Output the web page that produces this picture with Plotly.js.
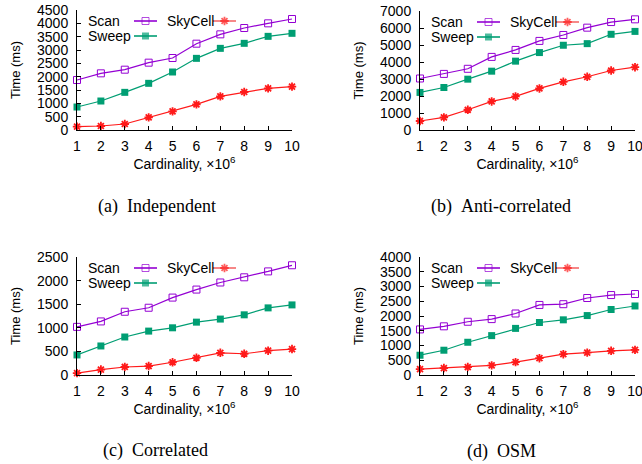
<!DOCTYPE html>
<html><head><meta charset="utf-8">
<script src="https://cdn.plot.ly/plotly-3.0.1.min.js"></script>
<style>html,body{margin:0;padding:0;background:#fff}#chart{width:642px;height:464px}</style>
</head><body><div id="chart"></div>
<script>
// ---- data ----
const cardinality = [1, 2, 3, 4, 5, 6, 7, 8, 9, 10];
const seriesNames = ['Scan', 'Sweep', 'SkyCell'];
const captions = ['(a)  Independent', '(b)  Anti-correlated', '(c)  Correlated', '(d)  OSM'];
const yTitle = 'Time (ms)';
const xTitle = 'Cardinality, ×10<sup>6</sup>';
const yMax = [4500, 7000, 2500, 4000];
const yStep = [500, 1000, 500, 500];

const scanIndependent    = [1875, 2125, 2262, 2525, 2700, 3237, 3587, 3825, 4000, 4162];
const sweepIndependent   = [862, 1087, 1412, 1750, 2175, 2687, 3062, 3250, 3512, 3625];
const skyCellIndependent = [125, 150, 225, 475, 700, 962, 1262, 1425, 1562, 1625];

const scanAnti    = [3030, 3300, 3600, 4300, 4710, 5240, 5590, 6020, 6350, 6510];
const sweepAnti   = [2210, 2500, 2990, 3460, 4050, 4555, 4985, 5080, 5630, 5800];
const skyCellAnti = [530, 745, 1190, 1680, 1975, 2445, 2835, 3130, 3500, 3695];

const scanCorr    = [1020, 1135, 1340, 1425, 1640, 1810, 1960, 2070, 2195, 2325];
const sweepCorr   = [425, 615, 805, 930, 1000, 1120, 1185, 1275, 1422, 1485];
const skyCellCorr = [40, 115, 170, 190, 270, 365, 470, 450, 515, 550];

const scanOSM    = [1545, 1650, 1805, 1895, 2085, 2375, 2400, 2610, 2710, 2745];
const sweepOSM   = [670, 840, 1110, 1335, 1580, 1780, 1870, 2015, 2220, 2340];
const skyCellOSM = [200, 235, 270, 325, 435, 570, 705, 760, 820, 850];

const panelData = [
  [scanIndependent, sweepIndependent, skyCellIndependent],
  [scanAnti, sweepAnti, skyCellAnti],
  [scanCorr, sweepCorr, skyCellCorr],
  [scanOSM, sweepOSM, skyCellOSM]
];

// ---- styles / layout ----
const W = 642, H = 464;
const boxes = [ // plot areas in px: left, right, top, bottom
  {l: 77, r: 292, t: 10, b: 130},
  {l: 420, r: 635, t: 11, b: 130},
  {l: 77, r: 292, t: 257, b: 375},
  {l: 420, r: 635, t: 257, b: 375}
];
const captionPos = [{x: 157, y: 206}, {x: 501, y: 206}, {x: 155, y: 450}, {x: 501, y: 451}];
const yTitleOffset = 62; // px left of the y axis line
const colors = ['#9400D3', '#009E73', '#FF1A1A'];
const legendColors = ['#9400D3', '#009E73', '#F46A6A'];
const markers = [
  {symbol: 'square-open', size: 7, line: {width: 1}},
  {symbol: 'square', size: 7, line: {width: 0}},
  {symbol: 'asterisk-open', size: 7, line: {width: 1.8}}
];
const sans = 'Liberation Sans, Arial, sans-serif';
// legend placements (px offset from plot top-left): text x, sample start, sample end, row y
const legendItems = [
  {text: 9, s0: 57, s1: 80, row: 11},
  {text: 9, s0: 57, s1: 80, row: 26},
  {text: 88, s0: 136, s1: 159, row: 11}
];

const traces = [];
const layout = {
  width: W, height: H, margin: {l: 0, r: 0, t: 0, b: 0},
  paper_bgcolor: '#fff', plot_bgcolor: 'rgba(0,0,0,0)',
  showlegend: false, font: {family: sans, size: 14, color: '#000'},
  annotations: [], shapes: []
};

boxes.forEach((bx, i) => {
  const n = i + 1, m = i + 5;
  const xd = [bx.l / W, bx.r / W], yd = [1 - bx.b / H, 1 - bx.t / H];
  const pw = bx.r - bx.l, ph = bx.b - bx.t;
  const ax = {
    showline: true, linecolor: '#000', linewidth: 1, ticks: 'inside', ticklen: 4,
    tickcolor: '#000', tickwidth: 1, showgrid: false, zeroline: false, mirror: false,
    tickfont: {family: sans, size: 14, color: '#000'}, fixedrange: true, ticklabeloverflow: 'allow'
  };
  layout['xaxis' + n] = Object.assign({}, ax, {
    domain: xd, anchor: 'y' + n, range: [1, 10], tickvals: cardinality, ticklabelstandoff: 3,
    title: {text: xTitle, font: {family: sans, size: 14}, standoff: 4}
  });
  layout['yaxis' + n] = Object.assign({}, ax, {
    domain: yd, anchor: 'x' + n, range: [0, yMax[i]], dtick: yStep[i], tick0: 0, ticklabelstandoff: 5
  });
  // overlay axes for the key samples
  layout['xaxis' + m] = {domain: xd, anchor: 'y' + m, range: [0, pw], visible: false, fixedrange: true};
  layout['yaxis' + m] = {domain: yd, anchor: 'x' + m, range: [ph, 0], visible: false, fixedrange: true};

  // y title as rotated annotation
  layout.annotations.push({
    xref: 'paper', yref: 'paper', x: (bx.l - yTitleOffset) / W, y: 1 - (bx.t + bx.b) / 2 / H,
    text: yTitle, textangle: -90, showarrow: false, xanchor: 'center', yanchor: 'middle',
    font: {family: sans, size: 13, color: '#000'}
  });

  panelData[i].forEach((vals, s) => {
    traces.push({
      type: 'scatter', mode: 'lines+markers', x: cardinality, y: vals, name: seriesNames[s],
      xaxis: 'x' + n, yaxis: 'y' + n, cliponaxis: false,
      line: {color: colors[s], width: 1.2},
      marker: Object.assign({color: colors[s]}, markers[s], {line: Object.assign({color: colors[s]}, markers[s].line)})
    });
  });
  legendItems.forEach((it, s) => {
    traces.push({
      type: 'scatter', mode: 'lines+markers', xaxis: 'x' + m, yaxis: 'y' + m,
      x: [it.s0, (it.s0 + it.s1) / 2, it.s1], y: [it.row, it.row, it.row], hoverinfo: 'skip',
      line: {color: legendColors[s], width: 1.6},
      marker: Object.assign({}, markers[s], {color: colors[s], size: [0, markers[s].size, 0],
        line: Object.assign({color: colors[s]}, markers[s].line)})
    });
    layout.annotations.push({
      xref: 'x' + m, yref: 'y' + m, x: it.text, y: it.row, text: seriesNames[s],
      showarrow: false, xanchor: 'left', yanchor: 'middle', font: {family: sans, size: 14, color: '#000'}
    });
  });
  layout.annotations.push({
    xref: 'paper', yref: 'paper', x: captionPos[i].x / W, y: 1 - captionPos[i].y / H,
    text: captions[i].replace('  ', '&nbsp;&nbsp;'), showarrow: false, xanchor: 'center', yanchor: 'middle',
    font: {family: 'Liberation Serif, Times New Roman, serif', size: 18, color: '#000'}
  });
});

Plotly.newPlot('chart', traces, layout, {staticPlot: true, displayModeBar: false});
</script>
</body></html>
